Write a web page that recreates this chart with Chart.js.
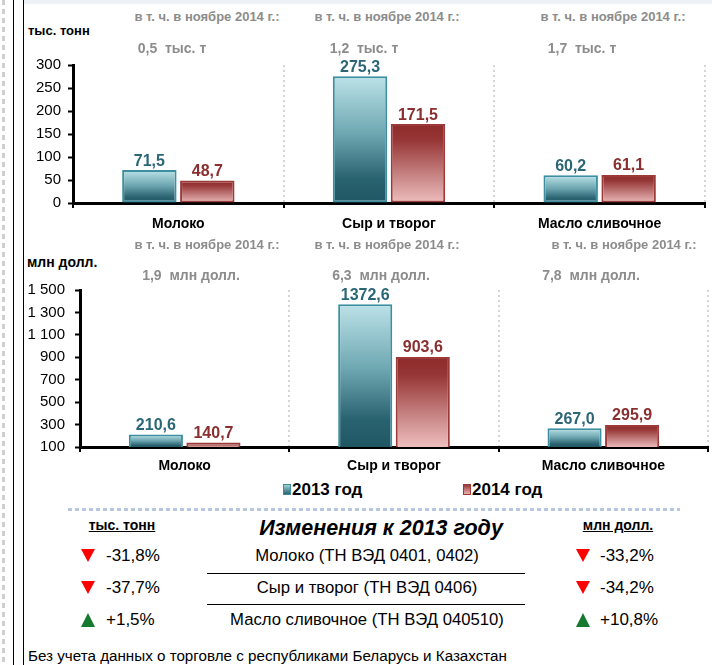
<!DOCTYPE html>
<html lang="ru">
<head>
<meta charset="utf-8">
<title>Экспорт молочной продукции</title>
<script src="https://cdn.jsdelivr.net/npm/chart.js@4.4.1/dist/chart.umd.min.js"></script>
<style>
  html, body { margin: 0; padding: 0; background: #fff; }
  body { width: 712px; height: 665px; position: relative; overflow: hidden;
         font-family: "Liberation Sans", Arial, sans-serif; }
  .box { position: absolute; left: 0; width: 712px; }
  .t { position: absolute; white-space: nowrap; line-height: 1; transform: translate(-50%, -50%); }
  .l { position: absolute; white-space: nowrap; line-height: 1; transform: translateY(-50%); }
  .gray { color: #8c8c8c; font-weight: bold; font-family: "Liberation Sans Narrow", "Arial Narrow", "Liberation Sans", Arial, sans-serif; }
  .tri-down { position: absolute; width: 0; height: 0; border-left: 7px solid transparent;
              border-right: 7px solid transparent; border-top: 13px solid #ff0000; }
  .tri-up { position: absolute; width: 0; height: 0; border-left: 7px solid transparent;
            border-right: 7px solid transparent; border-bottom: 14px solid #157a2f; }
</style>
</head>
<body>
<!-- page frame on the left -->
<div style="position:absolute;left:2px;top:0;width:3px;height:665px;background:repeating-linear-gradient(to bottom,#cfcfcf 0 5px,transparent 5px 9px)"></div>
<div style="position:absolute;left:13px;top:0;width:1px;height:665px;background:#000"></div>
<div style="position:absolute;left:23px;top:0;width:1px;height:665px;background:#000"></div>
<div style="position:absolute;left:24px;top:0;width:688px;height:4px;background:#eef1f6"></div>

<div class="box" style="top:40px;height:200px"><canvas id="chartTonnes"></canvas></div>
<div class="box" style="top:270px;height:210px"><canvas id="chartUsd"></canvas></div>

<div id="extras"></div>

<script>
// categories and series
const categories = ['Молоко', 'Сыр и творог', 'Масло сливочное'];
const seriesNames = ['2013 год', '2014 год'];

// volume, тыс. тонн
const tonnes2013 = [71.5, 275.3, 60.2];
const tonnes2014 = [48.7, 171.5, 61.1];
const tonnesTicks = [0, 50, 100, 150, 200, 250, 300];

// value, млн долл.
const usd2013 = [210.6, 1372.6, 267.0];
const usd2014 = [140.7, 903.6, 295.9];
const usdTicks = [100, 300, 500, 700, 900, 1100, 1300, 1500];

// of which in November 2014
const novTonnes = ['0,5', '1,2', '1,7'];
const novUsd = ['1,9', '6,3', '7,8'];

// changes vs 2013
const changeItems = ['Молоко (ТН ВЭД 0401, 0402)', 'Сыр и творог (ТН ВЭД 0406)', 'Масло сливочное (ТН ВЭД 040510)'];
const changeTonnes = ['-31,8%', '-37,7%', '+1,5%'];
const changeUsd = ['-33,2%', '-34,2%', '+10,8%'];

const FONT = '"Liberation Sans", Arial, sans-serif';
const FONT_CSS = "'Liberation Sans', Arial, sans-serif";

const tealStops = [[0, '#bce2e8'], [0.45, '#6ea7b1'], [0.8, '#2a6370'], [1, '#1f5663']];
const redStops = [[0, '#8e2b2b'], [0.2, '#973636'], [0.65, '#c88585'], [1, '#f0c0c0']];

/**
 * Vertical gradient spanning one bar, from its top down to the axis floor
 */
function barGradient(context, stops) {
    const chart = context.chart;
    const area = chart.chartArea;
    if (!area || context.type !== 'data') {
        return stops[1][1];
    }
    const y = chart.scales.y;
    const top = y.getPixelForValue(context.raw);
    const bottom = Math.min(y.getPixelForValue(0), area.bottom);
    const g = chart.ctx.createLinearGradient(0, top, 0, bottom + 1);
    stops.forEach(s => g.addColorStop(s[0], s[1]));
    return g;
}

// value labels above each bar
const valueLabels = {
    id: 'valueLabels',
    afterDatasetsDraw(chart) {
        const ctx = chart.ctx;
        chart.data.datasets.forEach((ds, i) => {
            chart.getDatasetMeta(i).data.forEach((bar, j) => {
                ctx.save();
                ctx.font = 'bold 16px ' + FONT;
                ctx.fillStyle = ds.labelColor;
                ctx.textAlign = 'center';
                ctx.textBaseline = 'bottom';
                ctx.fillText(ds.data[j].toFixed(1).replace('.', ','), bar.x, bar.y - 1);
                ctx.restore();
            });
        });
    }
};

function formatThousands(v) {
    return String(v).replace(/\B(?=(\d{3})+(?!\d))/g, ' ');
}

function makeChart(id, data2013, data2014, ticks, opts) {
    return new Chart(document.getElementById(id), {
        type: 'bar',
        data: {
            labels: categories,
            datasets: [
                {
                    label: seriesNames[0],
                    data: data2013,
                    backgroundColor: c => barGradient(c, tealStops),
                    borderColor: '#3b8fa1',
                    borderWidth: 2,
                    borderSkipped: false,
                    labelColor: '#2b6677',
                    categoryPercentage: 0.55,
                    barPercentage: 0.94
                },
                {
                    label: seriesNames[1],
                    data: data2014,
                    backgroundColor: c => barGradient(c, redStops),
                    borderColor: '#9c3939',
                    borderWidth: 2,
                    borderSkipped: false,
                    labelColor: '#8a2f2f',
                    categoryPercentage: 0.55,
                    barPercentage: 0.94
                }
            ]
        },
        options: {
            responsive: true,
            maintainAspectRatio: false,
            animation: false,
            layout: { padding: { top: opts.padTop, right: opts.padRight, left: 0, bottom: 0 } },
            plugins: {
                legend: { display: false },
                tooltip: { enabled: false }
            },
            scales: {
                x: {
                    grid: {
                        offset: true,
                        color: '#d6d6d6',
                        lineWidth: 2,
                        drawTicks: true,
                        tickLength: 5,
                        tickColor: '#000',
                        tickWidth: 2
                    },
                    border: { display: true, color: '#000', width: 3, dash: [2, 3] },
                    ticks: {
                        color: '#000',
                        font: { family: FONT, size: 14, weight: 'bold' },
                        padding: opts.xPad
                    },
                    afterFit: s => { s.height = opts.xHeight; }
                },
                y: {
                    min: ticks[0],
                    max: ticks[ticks.length - 1],
                    afterBuildTicks: s => { s.ticks = ticks.map(v => ({ value: v })); },
                    grid: {
                        drawOnChartArea: false,
                        tickLength: 5,
                        tickColor: '#000',
                        tickWidth: 2
                    },
                    border: { display: true, color: '#000', width: 3 },
                    ticks: {
                        color: '#000',
                        font: { family: FONT, size: 15 },
                        padding: opts.yPad,
                        callback: v => formatThousands(v)
                    },
                    afterFit: s => { s.width = opts.yWidth; }
                }
            }
        },
        plugins: [valueLabels]
    });
}

makeChart('chartTonnes', tonnes2013, tonnes2014, tonnesTicks,
    { padTop: 25, padRight: 7, xHeight: 37, xPad: 8, yWidth: 73, yPad: 7 });
makeChart('chartUsd', usd2013, usd2014, usdTicks,
    { padTop: 20, padRight: 4, xHeight: 33, xPad: 6, yWidth: 80, yPad: 10 });

// text around the charts
const extras = document.getElementById('extras');
function add(html) { extras.insertAdjacentHTML('beforeend', html); }

add('<div class="l" style="left:28px;top:30px;font:bold 13px ' + FONT_CSS + '">тыс. тонн</div>');
add('<div class="l" style="left:27px;top:262px;font:bold 14px ' + FONT_CSS + '">млн долл.</div>');

const novHeadX = [[207, 387, 613], [207, 387, 624]];
const novValX = [[172, 364, 582], [191, 381, 591]];
[[16, 48, novTonnes, 'тыс. т', 0], [244, 275, novUsd, 'млн долл.', 1]].forEach(r => {
    const [yHead, yVal, vals, unit, k] = r;
    vals.forEach((v, i) => {
        add('<div class="t gray" style="left:' + novHeadX[k][i] + 'px;top:' + yHead + 'px;font-size:13px">в т. ч. в ноябре 2014 г.:</div>');
        add('<div class="t gray" style="left:' + novValX[k][i] + 'px;top:' + yVal + 'px;font-size:14px">' + v + '&nbsp; ' + unit + '</div>');
    });
});

// legend
add('<div style="position:absolute;left:283px;top:484px;width:8px;height:11px;border:1px solid #3b8fa1;box-sizing:border-box;background:linear-gradient(#9fd0d8,#2a6370)"></div>');
add('<div class="l" style="left:292px;top:490px;font:bold 17px ' + FONT_CSS + '">' + seriesNames[0] + '</div>');
add('<div style="position:absolute;left:463px;top:484px;width:8px;height:11px;border:1px solid #9c3939;box-sizing:border-box;background:linear-gradient(#9a3a3a,#e8b0b0)"></div>');
add('<div class="l" style="left:472px;top:490px;font:bold 17px ' + FONT_CSS + '">' + seriesNames[1] + '</div>');

// dotted separator
add('<div style="position:absolute;left:68px;top:508px;width:612px;height:3px;background:repeating-linear-gradient(to right,#b7c7e0 0 4px,transparent 4px 7px)"></div>');

// changes table
add('<div class="t" style="left:122px;top:525px;font:bold 14px ' + FONT_CSS + ';text-decoration:underline">тыс. тонн</div>');
add('<div class="t" style="left:618px;top:525px;font:bold 14px ' + FONT_CSS + ';text-decoration:underline">млн долл.</div>');
add('<div class="t" style="left:381px;top:528px;font:italic bold 21.5px ' + FONT_CSS + '">Изменения к 2013 году</div>');

const rowY = [556, 588, 620];
changeItems.forEach((name, i) => {
    const y = rowY[i];
    const up = (s) => s.charAt(0) === '+';
    add('<div class="' + (up(changeTonnes[i]) ? 'tri-up' : 'tri-down') + '" style="left:81px;top:' + (y - 7) + 'px"></div>');
    add('<div class="l" style="left:106px;top:' + y + 'px;font:17px ' + FONT_CSS + '">' + changeTonnes[i] + '</div>');
    add('<div class="t" style="left:367px;top:' + y + 'px;font:16.7px ' + FONT_CSS + '">' + name + '</div>');
    add('<div class="' + (up(changeUsd[i]) ? 'tri-up' : 'tri-down') + '" style="left:576px;top:' + (y - 7) + 'px"></div>');
    add('<div class="l" style="left:600px;top:' + y + 'px;font:17px ' + FONT_CSS + '">' + changeUsd[i] + '</div>');
});
add('<div style="position:absolute;left:207px;top:573px;width:318px;height:1px;background:#000"></div>');
add('<div style="position:absolute;left:207px;top:604px;width:318px;height:1px;background:#000"></div>');

add('<div class="l" style="left:28px;top:655px;font:15.2px ' + FONT_CSS + '">Без учета данных о торговле с республиками Беларусь и Казахстан</div>');
</script>
</body>
</html>
